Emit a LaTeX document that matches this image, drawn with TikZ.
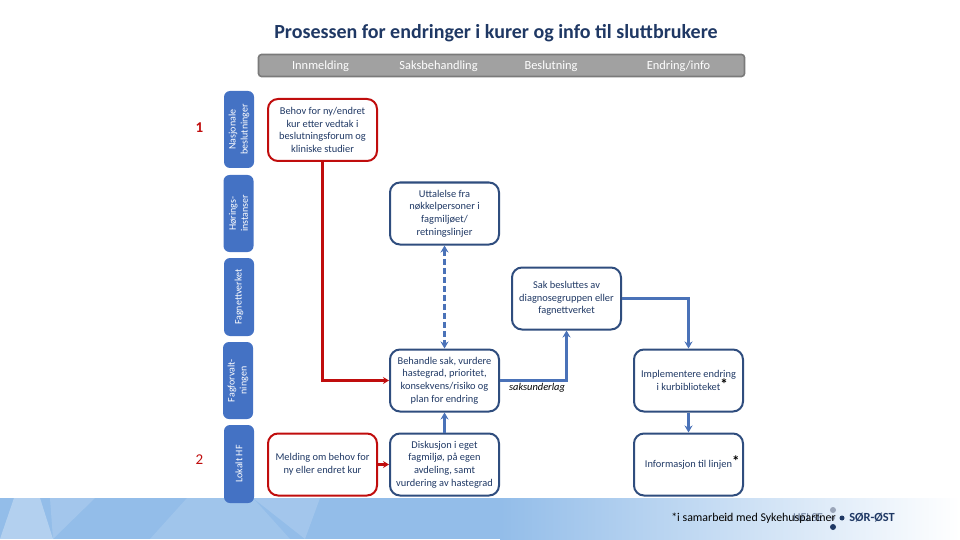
\documentclass[tikz,border=0pt]{standalone}
\usepackage{fontspec}
\setmainfont{Carlito}
\usepackage{xcolor}
\usetikzlibrary{arrows.meta, positioning, calc, shapes}

\definecolor{navy}{HTML}{1F3864}
\definecolor{boxblue}{HTML}{2F4D7E}
\definecolor{linkblue}{HTML}{4A72B8}
\definecolor{barblue}{HTML}{4472C4}
\definecolor{kurred}{HTML}{C00D0D}
\definecolor{bandblue}{HTML}{93BDE9}

\tikzset{
    stepbox/.style={draw=boxblue, line width=2pt, rounded corners=10pt, minimum width=109pt, minimum height=62pt,
        align=center, text=navy, font=\fontsize{10.4}{12.6}\selectfont, inner sep=0pt},
    redbox/.style={stepbox, draw=kurred},
    sidebar/.style={fill=barblue, rounded corners=6pt, inner sep=0pt, align=center,
        text=white, font=\fontsize{10}{12}\selectfont},
    headtext/.style={text=white, font=\fontsize{12.4}{14}\selectfont, inner sep=0pt},
    bluelink/.style={draw=linkblue, line width=2.4pt, -{Stealth[length=7pt,width=8pt]}},
    redlink/.style={draw=kurred, line width=2.4pt, -{Stealth[length=6pt,width=7pt]}}
}
\newcommand{\stjerne}{\rlap{\smash{\raisebox{1pt}{\fontsize{15}{15}\selectfont\bfseries\color{black}*}}}}

\begin{document}
\begin{tikzpicture}[x=1pt,y=-1pt]
    \useasboundingbox (0,0) rectangle (960,540);

    % bunnfelt
    \fill[bandblue] (0,498) rectangle (500,539);
    \shade[left color=bandblue, right color=white] (500,498) rectangle (960,539);
    \fill[white, opacity=.3] (0,539) -- (14,498) -- (40,498) -- (53,539) -- cycle;
    \fill[white, opacity=.15] (50,498) -- (95,498) -- (53,539) -- cycle;
    \fill[white, opacity=.12] (150,539) -- (187,498) -- (253,498) -- (290,539) -- cycle;
    \fill[white, opacity=.15] (253,498) -- (320,498) -- (305,539) -- cycle;

    % tittel
    \node[font=\fontsize{20}{24}\selectfont\bfseries, text=navy] (tittel) at (496,33)
        {Prosessen for endringer i kurer og info til sluttbrukere};

    % overskrift
    \node[fill=black!37, draw=black!52, line width=1.6pt, rounded corners=3pt, minimum width=486pt, minimum height=22pt,
        inner sep=0pt] (hode) at (501.5,65.5) {};
    \foreach \x/\lab/\nm in {320.5/Innmelding/inn, 438.5/Saksbehandling/saks, 551/Beslutning/besl, 678.5/Endring{/}info/endr}{
        \node[headtext] (\nm) at (\x,66) {\lab};
    }

    % sidefelt
    \foreach \x/\y/\h/\lab/\nm in {
        239/129.5/77/{Nasjonale\\beslutninger}/nasj,
        238.5/213.5/77/{Hørings-\\instanser}/hor,
        239/297/78/{Fagnettverket}/fagn,
        238/380.5/77/{Fagforvalt-\\ningen}/fagf,
        239/464/78/{Lokalt HF}/lok}{
        \node[sidebar, minimum height=30pt, minimum width=\h pt, rotate=90] (\nm) at (\x,\y) {\lab};
    }

    \node[font=\fontsize{15}{18}\selectfont\bfseries, text=kurred] (en) at (199.5,127.5) {1};
    \node[font=\fontsize{15}{18}\selectfont, text=kurred] (to) at (199.5,460) {2};

    % bokser
    \node[redbox] (behov) at (322.5,130) {Behov for ny/endret\\kur etter vedtak i\\beslutningsforum og\\kliniske studier};
    \node[stepbox] (uttalelse) at (444.5,213.5) {Uttalelse fra\\nøkkelpersoner i\\fagmiljøet/\\retningslinjer};
    \node[stepbox] (sak) at (566.5,298.5) {Sak besluttes av\\diagnosegruppen eller\\fagnettverket};
    \node[stepbox] (behandle) at (444.5,380.5) {Behandle sak, vurdere\\hastegrad, prioritet,\\konsekvens/risiko og\\plan for endring};
    \node[stepbox] (impl) at (688.5,380.5) {Implementere endring\\i kurbiblioteket\stjerne};
    \node[redbox] (melding) at (322.5,464.5) {Melding om behov for\\ny eller endret kur};
    \node[stepbox] (diskusjon) at (444.5,464.5) {Diskusjon i eget\\fagmiljø, på egen\\avdeling, samt\\vurdering av hastegrad};
    \node[stepbox] (info) at (688.5,464.5) {Informasjon til linjen\stjerne};

    % piler
    \draw[redlink] (behov.south) |- (behandle.west);
    \draw[redlink] (melding) -- (diskusjon);
    \draw[bluelink] (diskusjon) -- (behandle);
    \draw[bluelink, {Stealth[length=7pt,width=8pt]}-{Stealth[length=7pt,width=8pt]}, dash pattern=on 6pt off 3pt]
        (uttalelse) -- (behandle);
    \draw[bluelink] (behandle.east) -| (sak.south);
    \draw[bluelink] (sak.east) -| (impl.north);
    \draw[bluelink] (impl) -- (info);

    \node[font=\fontsize{10.4}{12}\selectfont\itshape, text=black] (underlag) at (537,388) {saksunderlag};

    % bunntekst
    \fill[navy!45] (833,510) circle (3pt);
    \fill[navy!45] (833,518) circle (2pt);
    \fill[navy] (842,518) circle (2.5pt);
    \fill[navy] (833,527) circle (3pt);
    \node[font=\fontsize{10}{11}\selectfont, text=black!40] (side) at (728,518) {21};
    \node[font=\fontsize{12}{13}\selectfont, text=navy!70] (helse) at (808,518) {HELSE};
    \node[font=\fontsize{11.9}{13}\selectfont, text=black] (samarbeid) at (753.5,518) {*i samarbeid med Sykehuspartner};
    \node[font=\fontsize{12.4}{13}\selectfont\bfseries, text=navy] (sorost) at (872,518) {SØR-ØST};

\end{tikzpicture}
\end{document}
